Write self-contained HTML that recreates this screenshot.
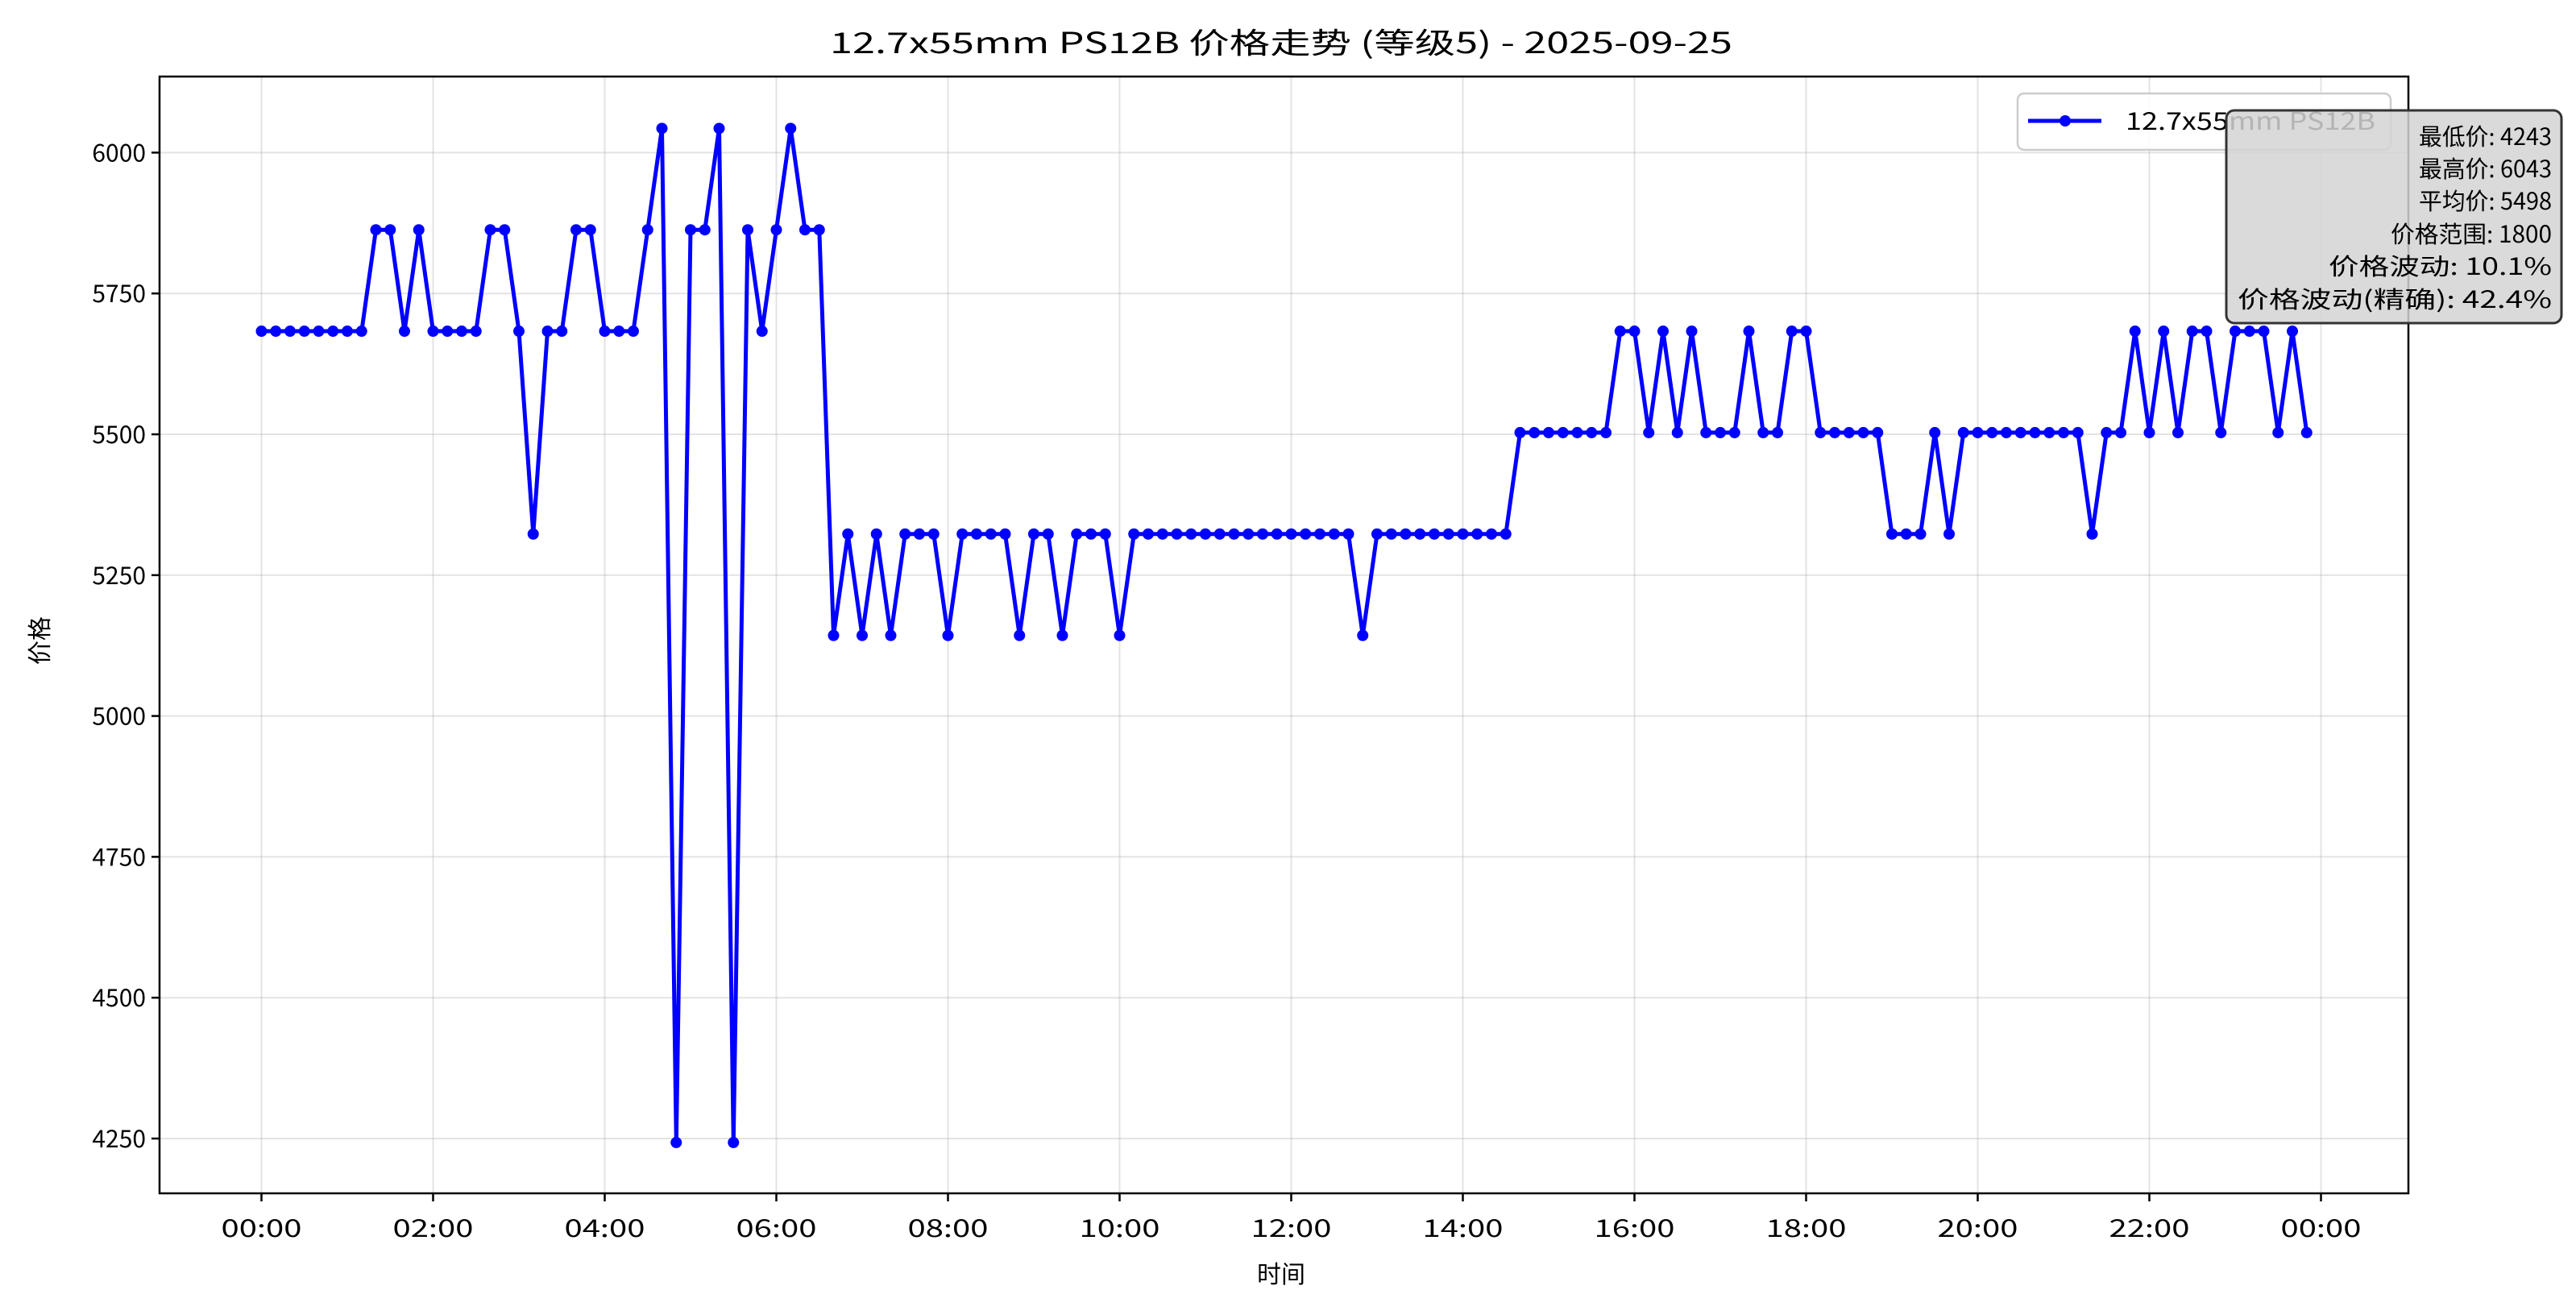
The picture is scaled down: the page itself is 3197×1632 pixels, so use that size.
<!DOCTYPE html>
<html><head><meta charset="utf-8"><title>12.7x55mm PS12B 价格走势</title>
<style>
html,body{margin:0;padding:0;background:#fff;}
svg{display:block;}
text{font-family:"WenQuanYi Zen Hei","Noto Sans CJK SC","Liberation Sans",sans-serif;fill:#000;}
</style></head>
<body>
<svg id="chart" xmlns="http://www.w3.org/2000/svg" width="3197" height="1632" viewBox="0 0 3197 1632">
<rect x="0" y="0" width="3197" height="1632" fill="#fff"/>
<text x="1590" y="66" font-size="36" text-anchor="middle" textLength="1120" lengthAdjust="spacingAndGlyphs">12.7x55mm PS12B 价格走势 (等级5) - 2025-09-25</text>
<g id="grid"></g>
<g id="series"></g>
<rect x="198" y="95" width="2791" height="1386" fill="none" stroke="#000" stroke-width="2.5"/>
<g id="xticks"></g>
<g id="yticks"></g>
<text x="1590" y="1592" font-size="30" text-anchor="middle">时间</text>
<text x="0" y="0" font-size="30" text-anchor="middle" transform="translate(60,795) rotate(-90)">价格</text>
<g>
<rect x="2504" y="116" width="463" height="70" rx="8" fill="#fff" fill-opacity="0.85" stroke="#ccc" stroke-width="2.5"/>
<line x1="2517" y1="150" x2="2608" y2="150" stroke="#0000ff" stroke-width="5"/>
<circle cx="2563" cy="150" r="7" fill="#0000ff"/>
<text x="2638" y="161" font-size="30" textLength="310" lengthAdjust="spacingAndGlyphs">12.7x55mm PS12B</text>
</g>
<g>
<rect x="2763" y="137" width="416" height="264" rx="10" fill="#d3d3d3" fill-opacity="0.85" stroke="#333" stroke-width="3"/>
<text x="3167" y="180" font-size="29" text-anchor="end" textLength="165" lengthAdjust="spacingAndGlyphs">最低价: 4243</text>
<text x="3167" y="220" font-size="29" text-anchor="end" textLength="165" lengthAdjust="spacingAndGlyphs">最高价: 6043</text>
<text x="3167" y="260" font-size="29" text-anchor="end" textLength="165" lengthAdjust="spacingAndGlyphs">平均价: 5498</text>
<text x="3167" y="301" font-size="29" text-anchor="end" textLength="200" lengthAdjust="spacingAndGlyphs">价格范围: 1800</text>
<text x="3167" y="341" font-size="29" text-anchor="end" textLength="277" lengthAdjust="spacingAndGlyphs">价格波动: 10.1%</text>
<text x="3167" y="382" font-size="29" text-anchor="end" textLength="390" lengthAdjust="spacingAndGlyphs">价格波动(精确): 42.4%</text>
</g>
</svg>
<script>
// ---- data ----
const prices = [
5683,5683,5683,5683,5683,5683,5683,5683,5863,5863,5683,5863,
5683,5683,5683,5683,5863,5863,5683,5323,5683,5683,5863,5863,
5683,5683,5683,5863,6043,4243,5863,5863,6043,4243,5863,5683,
5863,6043,5863,5863,5143,5323,5143,5323,5143,5323,5323,5323,
5143,5323,5323,5323,5323,5143,5323,5323,5143,5323,5323,5323,
5143,5323,5323,5323,5323,5323,5323,5323,5323,5323,5323,5323,
5323,5323,5323,5323,5323,5143,5323,5323,5323,5323,5323,5323,
5323,5323,5323,5323,5503,5503,5503,5503,5503,5503,5503,5683,
5683,5503,5683,5503,5683,5503,5503,5503,5683,5503,5503,5683,
5683,5503,5503,5503,5503,5503,5323,5323,5323,5503,5323,5503,
5503,5503,5503,5503,5503,5503,5503,5503,5323,5503,5503,5683,
5503,5683,5503,5683,5683,5503,5683,5683,5683,5503,5683,5503
];
const stepMinutes = 10;
const yTicks = [4250,4500,4750,5000,5250,5500,5750,6000];
const xTickMinutes = [0,120,240,360,480,600,720,840,960,1080,1200,1320,1440];
const xTickLabels = ["00:00","02:00","04:00","06:00","08:00","10:00","12:00","14:00","16:00","18:00","20:00","22:00","00:00"];

// ---- axes ----
const PL=198, PR=2989, PT=95, PB=1481;
function xPos(min){ return 324.5 + min*(213/120); }
function yPos(v){ return 1413 - (v-4250)*(174.8/250); }
const NS="http://www.w3.org/2000/svg";
function mk(tag, attrs, parent){ const e=document.createElementNS(NS,tag); for(const k in attrs) e.setAttribute(k,attrs[k]); parent.appendChild(e); return e; }

const grid=document.getElementById('grid');
const xt=document.getElementById('xticks');
const yt=document.getElementById('yticks');
xTickMinutes.forEach((m,i)=>{
  const x=xPos(m);
  const g=mk('line',{x1:x,y1:PT,x2:x,y2:PB,stroke:'#b0b0b0','stroke-opacity':0.35,'stroke-width':2},grid);
  
  
  const t=mk('line',{x1:x,y1:PB,x2:x,y2:PB+10,stroke:'#000','stroke-width':2.5},xt);
  
  
  const l=mk('text',{x:x,y:PB+54,'font-size':30,'text-anchor':'middle',textLength:100,lengthAdjust:'spacingAndGlyphs'},xt);
  l.textContent=xTickLabels[i];
  
  
});
yTicks.forEach(v=>{
  const y=yPos(v);
  const g=mk('line',{x1:PL,y1:y,x2:PR,y2:y,stroke:'#b0b0b0','stroke-opacity':0.35,'stroke-width':2},grid);
  
  
  const t=mk('line',{x1:PL-10,y1:y,x2:PL,y2:y,stroke:'#000','stroke-width':2.5},yt);
  
  
  const l=mk('text',{x:PL-17,y:y+11,'font-size':30,'text-anchor':'end'},yt);
  l.textContent=String(v);
  
  
});

// ---- series ----
const s=document.getElementById('series');
const pts=prices.map((v,i)=>xPos(i*stepMinutes).toFixed(1)+','+yPos(v).toFixed(1)).join(' ');
const pl=mk('polyline',{points:pts,fill:'none',stroke:'#0000ff','stroke-width':5,'stroke-linejoin':'round'},s);


prices.forEach((v,i)=>{
  const c=mk('circle',{cx:xPos(i*stepMinutes),cy:yPos(v),r:7,fill:'#0000ff'},s);
  
  
});
</script>
</body></html>
